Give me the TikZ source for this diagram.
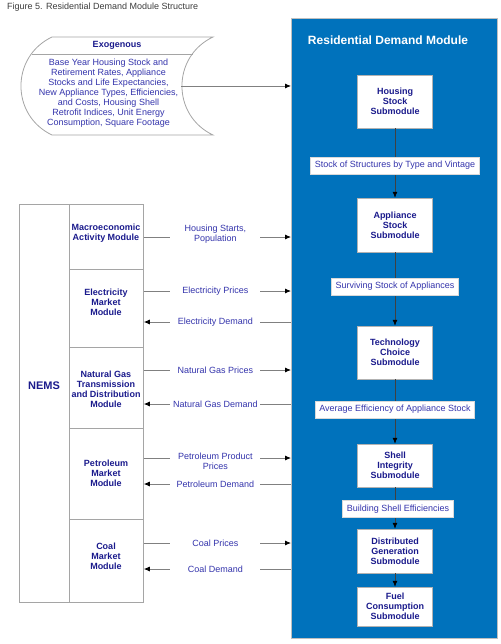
\documentclass[tikz,border=0pt]{standalone}
\usepackage{fontspec}
\setmainfont{Liberation Sans}
\usetikzlibrary{arrows.meta,calc}
\definecolor{panelblue}{RGB}{0,114,188}
\definecolor{navy}{RGB}{26,26,140}
\definecolor{lblue}{RGB}{52,52,172}
\definecolor{lgray}{RGB}{165,165,165}
\definecolor{capgray}{RGB}{60,60,60}
\begin{document}
\begin{tikzpicture}[x=1pt,y=-1pt,
  bodytext/.style={font=\fontsize{9}{10}\selectfont, text=lblue, align=center},
  modtext/.style={font=\bfseries\fontsize{9}{10}\selectfont, text=navy, align=center},
  subbox/.style={draw=gray!60, fill=white, minimum width=75pt, inner sep=0pt, modtext},
  flowlbl/.style={fill=white, draw=gray!30, inner xsep=4pt, inner ysep=0pt, minimum height=17pt, bodytext},
  arrlbl/.style={fill=white, inner sep=0pt, minimum width=90pt, bodytext},
  sidearrow/.style={draw=gray, line width=0.8pt, -{Latex[length=6pt,width=5pt,color=black]}},
  flowarrow/.style={draw=black!75, line width=0.8pt, -{Latex[length=6pt,width=5pt,color=black]}},
  rowbox/.style={draw=lgray, line width=0.8pt, minimum width=74pt, inner sep=0pt, anchor=north west}
]
\useasboundingbox (0,0) rectangle (500,644);

% caption
\node[anchor=west, inner sep=0pt, font=\fontsize{9}{11}\selectfont, text=capgray] (cap) at (7,7) {Figure 5. Residential Demand Module Structure};

% panel
\node[fill=panelblue, draw=gray!50, minimum width=206pt, minimum height=620pt, inner sep=0pt, anchor=north west] (panel) at (291,18) {};
\node[font=\bfseries\fontsize{12}{14}\selectfont, text=white] (title) at (388,40) {Residential Demand Module};

% submodules
\node[subbox, minimum height=53pt] (hs) at (395,101.5) {Housing\\Stock\\Submodule};
\node[subbox, minimum height=54pt] (as) at (395,225) {Appliance\\Stock\\Submodule};
\node[subbox, minimum height=53pt] (tc) at (395,352.5) {Technology\\Choice\\Submodule};
\node[subbox, minimum height=43pt] (si) at (395,465.5) {Shell\\Integrity\\Submodule};
\node[subbox, minimum height=44pt] (dg) at (395,551) {Distributed\\Generation\\Submodule};
\node[subbox, minimum height=39pt] (fc) at (395,606.5) {Fuel\\Consumption\\Submodule};

\draw[flowarrow] (hs) -- node[flowlbl, pos=0.536] (l1) {Stock of Structures by Type and Vintage} (as);
\draw[flowarrow] (as) -- node[flowlbl, pos=0.466] (l2) {Surviving Stock of Appliances} (tc);
\draw[flowarrow] (tc) -- node[flowlbl, pos=0.469] (l3) {Average Efficiency of Appliance Stock} (si);
\draw[flowarrow] (si) -- node[flowlbl, pos=0.524, xshift=3pt] (l4) {Building Shell Efficiencies} (dg);
\draw[flowarrow] (dg) -- (fc);

% exogenous
\draw[draw=lgray, line width=0.8pt, fill=white]
  (52,37) -- (213,37) .. controls (171.6,56.6) and (171.6,115.4) .. (213,135)
  -- (52,135) .. controls (10.6,115.4) and (10.6,56.6) .. (52,37) -- cycle;
\draw[draw=lgray, line width=0.8pt] (31.5,54) -- (192.5,54);
\node[modtext] (exoH) at (117,45) {Exogenous};
\node[bodytext] (exoB) at (108.5,93.5) {Base Year Housing Stock and\\Retirement Rates, Appliance\\Stocks and Life Expectancies,\\New Appliance Types, Efficiencies,\\and Costs, Housing Shell\\Retrofit Indices, Unit Energy\\Consumption, Square Footage};
\coordinate (exoR) at (181,86);
\draw[sidearrow] (exoR) -- (panel.west |- exoR);

% NEMS
\node[draw=lgray, line width=0.8pt, minimum width=50pt, minimum height=398pt, inner sep=0pt, anchor=north west] (nems) at (19,204) {};
\node[font=\bfseries\fontsize{11}{13}\selectfont, text=navy] (nemsT) at (44,386) {NEMS};
\node[rowbox, minimum height=65pt] (mac) at (69,204) {};
\node[rowbox, minimum height=78pt] (elec) at (69,269) {};
\node[rowbox, minimum height=81pt] (ng) at (69,347) {};
\node[rowbox, minimum height=91pt] (pet) at (69,428) {};
\node[rowbox, minimum height=83pt] (coal) at (69,519) {};
\node[modtext] (macT) at (106,233) {Macroeconomic\\Activity Module};
\node[modtext] (elecT) at (106,302) {Electricity\\Market\\Module};
\node[modtext] (ngT) at (106,389) {Natural Gas\\Transmission\\and Distribution\\Module};
\node[modtext] (petT) at (106,473) {Petroleum\\Market\\Module};
\node[modtext] (coalT) at (106,556) {Coal\\Market\\Module};

% NEMS connectors
\draw[sidearrow] (mac.east |- 0,237) -- node[arrlbl, pos=0.486, yshift=3pt] {Housing Starts,\\Population} (panel.west |- 0,237);
\draw[sidearrow] (elec.east |- 0,291) -- node[arrlbl, pos=0.486] {Electricity Prices} (panel.west |- 0,291);
\draw[sidearrow] (panel.west |- 0,322) -- node[arrlbl, pos=0.514] {Electricity Demand} (elec.east |- 0,322);
\draw[sidearrow] (ng.east |- 0,370) -- node[arrlbl, pos=0.486] {Natural Gas Prices} (panel.west |- 0,370);
\draw[sidearrow] (panel.west |- 0,404) -- node[arrlbl, pos=0.514] {Natural Gas Demand} (ng.east |- 0,404);
\draw[sidearrow] (pet.east |- 0,458) -- node[arrlbl, pos=0.486, yshift=-3pt] {Petroleum Product\\Prices} (panel.west |- 0,458);
\draw[sidearrow] (panel.west |- 0,484) -- node[arrlbl, pos=0.514] {Petroleum Demand} (pet.east |- 0,484);
\draw[sidearrow] (coal.east |- 0,543) -- node[arrlbl, pos=0.486] {Coal Prices} (panel.west |- 0,543);
\draw[sidearrow] (panel.west |- 0,569) -- node[arrlbl, pos=0.514] {Coal Demand} (coal.east |- 0,569);
\end{tikzpicture}
\end{document}
